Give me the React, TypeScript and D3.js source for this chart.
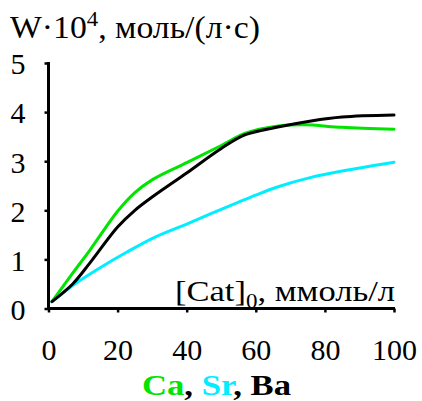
import React, { useEffect, useRef } from "react";
import * as d3 from "d3";

// values: W·10^4 against [Cat]0
const caX = [1, 7, 12, 20, 25, 30, 40, 50, 57, 66, 74, 85, 100];
const caY = [0.14, 0.72, 1.19, 1.98, 2.36, 2.62, 2.97, 3.32, 3.57, 3.71, 3.74, 3.69, 3.65];
const srX = [1, 7, 14, 22.7, 31, 40, 50, 60, 66, 76, 85, 100];
const srY = [0.14, 0.47, 0.79, 1.15, 1.46, 1.72, 2.02, 2.31, 2.47, 2.67, 2.8, 2.98];
const baX = [1, 7, 12, 20, 25, 30, 40, 50, 57, 66, 76, 85, 100];
const baY = [0.14, 0.5, 0.93, 1.66, 2.0, 2.27, 2.76, 3.26, 3.54, 3.69, 3.82, 3.9, 3.94];

const xTicks = [0, 20, 40, 60, 80, 100];
const yTicks = [0, 1, 2, 3, 4, 5];

const series = [
  { name: "Ca", xs: caX, ys: caY, color: "#00e400" },
  { name: "Sr", xs: srX, ys: srY, color: "#00eeff" },
  { name: "Ba", xs: baX, ys: baY, color: "#000000" },
];

const font = "Liberation Serif";
const txt = { fontFamily: font };

const App = () => {
  const xRef = useRef<SVGGElement>(null);
  const yRef = useRef<SVGGElement>(null);

  const x = d3.scaleLinear().domain([0, 100]).range([48.5, 394]);
  const y = d3.scaleLinear().domain([0, 5]).range([308.5, 63]);

  const line = d3.line<[number, number]>()
    .x(d => x(d[0]))
    .y(d => y(d[1]))
    .curve(d3.curveCatmullRom.alpha(0.5));

  useEffect(() => {
    const gx = d3.select(xRef.current!);
    gx.call(d3.axisBottom(x).tickValues(xTicks).tickFormat(d3.format("d")).tickSize(4).tickSizeOuter(0).tickPadding(26));
    gx.select(".domain").attr("stroke-width", 3).attr("d", `M${x(0) - 1.5},0H${x(100) + 1}`);
    gx.selectAll(".tick line").attr("stroke-width", 2.5);
    gx.selectAll("text").attr("fill", "#000").style("font-family", font).style("font-size", "30px");

    const gy = d3.select(yRef.current!);
    gy.call(d3.axisLeft(y).tickValues(yTicks).tickFormat(d3.format("d")).tickSize(4).tickSizeOuter(0).tickPadding(19));
    gy.select(".domain").attr("stroke-width", 3).attr("d", `M0,${y(5) - 1}V${y(0) + 1.5}`);
    gy.selectAll(".tick line").attr("stroke-width", 2.5);
    gy.selectAll("text").attr("fill", "#000").attr("dy", "0.36em").style("font-family", font).style("font-size", "30px");
  }, []);

  return (
    <svg width={422} height={401} style={{ position: "absolute", left: 0, top: 0 }}>
      <rect width={422} height={401} fill="#fff" />
      <text x={10} y={38} fontSize={31} style={txt} textLength={250} lengthAdjust="spacingAndGlyphs">
        W·10<tspan fontSize={21} dy={-12}>4</tspan><tspan dy={12}>, моль/(л·с)</tspan>
      </text>
      {series.map(s => (
        <path key={s.name}
          d={line(s.xs.map((v, i) => [v, s.ys[i]] as [number, number])) ?? ""}
          fill="none" stroke={s.color} strokeWidth={3} strokeLinejoin="round" strokeLinecap="round" />
      ))}
      <g ref={xRef} transform={`translate(0,${y(0)})`} />
      <g ref={yRef} transform={`translate(${x(0)},0)`} />
      <text x={175} y={301} fontSize={30} style={txt} textLength={220} lengthAdjust="spacingAndGlyphs">
        [Cat]<tspan fontSize={20} dy={7}>0</tspan><tspan dy={-7}>, ммоль/л</tspan>
      </text>
      <text x={142} y={395} fontSize={30} fontWeight="bold" style={txt} textLength={149} lengthAdjust="spacingAndGlyphs">
        <tspan fill={series[0].color}>Ca</tspan>, <tspan fill={series[1].color}>Sr</tspan>, <tspan fill={series[2].color}>Ba</tspan>
      </text>
    </svg>
  );
};

export default App;
